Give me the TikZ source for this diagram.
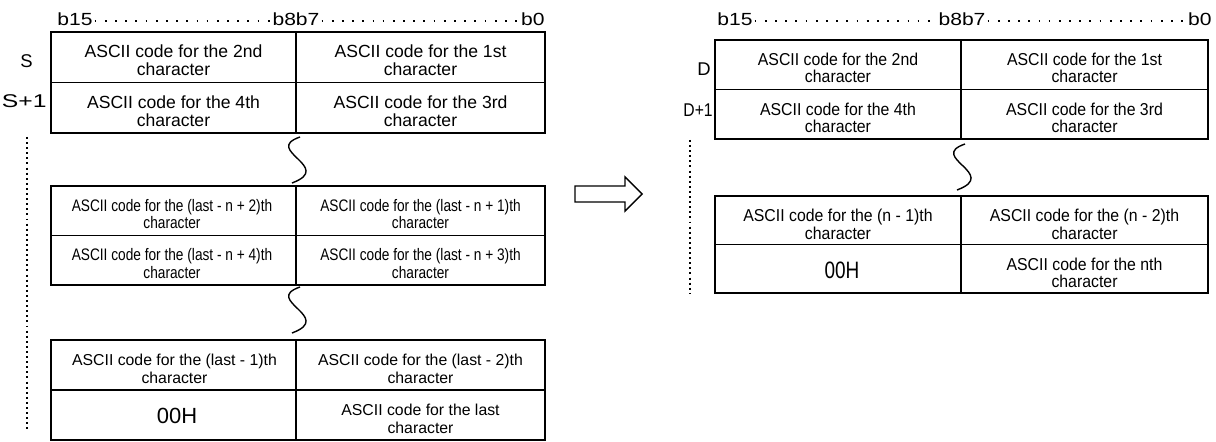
\documentclass[tikz,border=0pt]{standalone}
\usepackage{fontspec}
\setmainfont{Liberation Sans}
\newfontfamily\bitface[FakeStretch=1.2]{Liberation Sans}
\newfontfamily\wideface[FakeStretch=1.34]{Liberation Sans}
\newfontfamily\dregface[FakeStretch=0.85]{Liberation Sans}
\newfontfamily\packface[FakeStretch=0.82]{Liberation Sans}
\newfontfamily\narrowface[FakeStretch=0.92]{Liberation Sans}
\newfontfamily\zeroface[FakeStretch=0.8]{Liberation Sans}

\begin{document}
\begin{tikzpicture}[
  x=0.02cm,
  y=-0.02cm,
  every node/.style={inner sep=0pt, black},
  frame/.style={line width=0.8pt},
  dotrule/.style={line width=1pt, dash pattern=on 1pt off 4.8pt},
  dotcol/.style={line width=1.1pt, dash pattern=on 1.1pt off 1.8pt},
  breakmark/.style={line width=0.8pt},
  bitlabel/.style={font=\bitface\fontsize{10}{10}\selectfont},
  reglabel/.style={font=\fontsize{10.5}{10.5}\selectfont},
  widelabel/.style={font=\wideface\fontsize{10.5}{10.5}\selectfont},
  dreglabel/.style={font=\dregface\fontsize{10.5}{10.5}\selectfont},
  topcell/.style={align=center, font=\fontsize{10}{10}\selectfont},
  packcell/.style={align=center, font=\packface\fontsize{9.5}{8.5}\selectfont},
  lowcell/.style={align=center, font=\fontsize{9}{10.4}\selectfont},
  zerocell/.style={font=\fontsize{12.5}{12.5}\selectfont},
  dcell/.style={align=center, font=\narrowface\fontsize{9.8}{10}\selectfont},
  dzerocell/.style={font=\zeroface\fontsize{13.5}{13.5}\selectfont}
]
  \useasboundingbox (0,0) rectangle (1216,442);

  % ---- source tables S, S+1, ... ---------------------------------------
  \foreach \top/\bot in {32/133, 186/285, 340/440} {
    \draw[frame] (51,\top) rectangle (545,\bot);
    \draw[frame] (296,\top) -- (296,\bot);
    \draw[frame] (51,{(\top+\bot)/2}) -- (545,{(\top+\bot)/2});
  }

  % ---- destination tables D, D+1, ... ---------------------------------
  \foreach \top/\bot in {40/139, 196/293} {
    \draw[frame] (715,\top) rectangle (1208,\bot);
    \draw[frame] (961,\top) -- (961,\bot);
    \draw[frame] (715,{(\top+\bot)/2}) -- (1208,{(\top+\bot)/2});
  }

  % ---- bit headers -----------------------------------------------------
  \node[bitlabel, anchor=base west] (sb15) at (57,26) {b15};
  \node[bitlabel, anchor=base] (sb87) at (296,26) {b8b7};
  \node[bitlabel, anchor=base east] (sb0) at (545,26) {b0};
  \node[bitlabel, anchor=base west] (db15) at (717,26) {b15};
  \node[bitlabel, anchor=base] (db87) at (962,26) {b8b7};
  \node[bitlabel, anchor=base east] (db0) at (1212,26) {b0};
  \foreach \a/\b in {sb15/sb87, sb87/sb0, db15/db87, db87/db0}
    \draw[dotrule] ([xshift=1pt, yshift=3pt]\a.base east)
      -- ([xshift=-1pt, yshift=3pt]\b.base west);

  % ---- device labels and continuation dots ------------------------------
  \node[reglabel] (sreg) at (26.5,61.5) {S};
  \node[widelabel, anchor=east] (sreg1) at (47,101.5) {S+1};
  \node[reglabel] (dreg) at (704,69.5) {D};
  \node[dreglabel, anchor=east] (dreg1) at (713,110) {D+1};
  \coordinate (sdotstop) at (27,137);
  \coordinate (sdotsbot) at (27,432);
  \coordinate (ddotstop) at (690,140);
  \coordinate (ddotsbot) at (690,294);
  \draw[dotcol] (sdotstop) -- (sdotsbot);
  \draw[dotcol] (ddotstop) -- (ddotsbot);

  % ---- break marks -----------------------------------------------------
  \foreach \xo/\yo in {0/0, 0/150, 665/7}
    \draw[breakmark, shift={(\xo,\yo)}]
      (300,137) .. controls (262,150) and (335,167) .. (292,183);

  % ---- source cells ----------------------------------------------------
  \node[topcell] (shi1) at (173.5,60.5) {ASCII code for the 2nd\\character};
  \node[topcell] (slo1) at (420.5,60.5) {ASCII code for the 1st\\character};
  \node[topcell] (shi2) at (173.5,111) {ASCII code for the 4th\\character};
  \node[topcell] (slo2) at (420.5,111) {ASCII code for the 3rd\\character};
  \node[packcell] (shi3) at (172,214) {ASCII code for the (last - n + 2)th\\character};
  \node[packcell] (slo3) at (420.5,214) {ASCII code for the (last - n + 1)th\\character};
  \node[packcell] (shi4) at (172,263.5) {ASCII code for the (last - n + 4)th\\character};
  \node[packcell] (slo4) at (420.5,263.5) {ASCII code for the (last - n + 3)th\\character};
  \node[lowcell] (shi5) at (174.5,369) {ASCII code for the (last - 1)th\\character};
  \node[lowcell] (slo5) at (420.5,369) {ASCII code for the (last - 2)th\\character};
  \node[zerocell] (shi6) at (177,416) {00H};
  \node[lowcell] (slo6) at (420.5,419) {ASCII code for the last\\character};

  % ---- destination cells -----------------------------------------------
  \node[dcell] (dhi1) at (838,68) {ASCII code for the 2nd\\character};
  \node[dcell] (dlo1) at (1084.5,68) {ASCII code for the 1st\\character};
  \node[dcell] (dhi2) at (838,118) {ASCII code for the 4th\\character};
  \node[dcell] (dlo2) at (1084.5,118) {ASCII code for the 3rd\\character};
  \node[dcell] (dhi3) at (838,224.5) {ASCII code for the (n - 1)th\\character};
  \node[dcell] (dlo3) at (1084.5,224.5) {ASCII code for the (n - 2)th\\character};
  \node[dzerocell] (dhi4) at (842,270) {00H};
  \node[dcell] (dlo4) at (1084.5,273) {ASCII code for the nth\\character};

  % ---- conversion arrow ------------------------------------------------
  \draw[frame, fill=white] (575,186) -- (625,186) -- (625,177) -- (642,194)
    -- (625,211) -- (625,202) -- (575,202) -- cycle;
\end{tikzpicture}
\end{document}
